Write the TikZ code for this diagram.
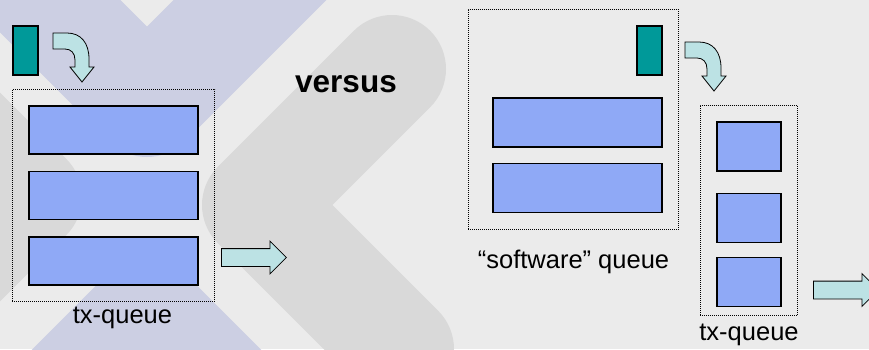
\documentclass[tikz,border=0pt]{standalone}
\usepackage{fontspec}
\setmainfont{Liberation Sans}
\usetikzlibrary{positioning,fit,shapes.arrows}
\definecolor{bgrey}{HTML}{EBEBEB}
\definecolor{chevgrey}{HTML}{D9D9D9}
\definecolor{lavender}{HTML}{CCCFE3}
\definecolor{pktteal}{HTML}{009999}
\definecolor{slotblue}{HTML}{8FA9F6}
\definecolor{flowcyan}{HTML}{BCE2E4}

\begin{document}
\begin{tikzpicture}[x=1pt,y=-1pt,node distance=16pt,
    chev/.style={line width=108pt,line cap=round,line join=round},
    packet/.style={draw,line width=1.5pt,fill=pktteal,minimum width=25pt,minimum height=49pt,inner sep=0pt},
    slot/.style={draw,line width=1.5pt,fill=slotblue,minimum width=169pt,minimum height=48pt,inner sep=0pt},
    smallslot/.style={slot,minimum width=64pt,minimum height=49pt},
    queue/.style={draw,dash pattern=on 1pt off 1pt,line width=0.8pt,inner sep=16pt},
    flowarrow/.style={single arrow,draw,fill=flowcyan,line width=0.8pt,minimum height=65pt,
        single arrow head extend=7.5pt,inner xsep=0pt,inner ysep=8.5pt},
    lbl/.style={font=\fontsize{25.5}{30}\selectfont,inner sep=0pt},
    bendarrow/.pic={\draw[fill=flowcyan,line width=0.8pt] (0,0) -- (14,0)
        .. controls (28,0) and (36,10) .. (36,26) -- (36,34) -- (41,34) -- (29,49)
        -- (17,34) -- (22,34) -- (22,27) .. controls (22,20) and (18,16) .. (12,16)
        -- (0,16) -- cycle;}]
                \useasboundingbox (0,0) rectangle (869,349);
                \begin{scope}
                \clip (0,0) rectangle (869,349);
                \fill[bgrey] (0,0) rectangle (869,349);
                \draw[chev,lavender] (-103,-147) -- (147,103) -- (397,-147);
                \draw[chev,lavender] (-103.5,561.5) -- (146.5,311.5) -- (396.5,561.5);
                \draw[chev,chevgrey] (-222,-53) -- (28,197) -- (-222,447);
                \draw[chev,chevgrey] (392,69) -- (256,205) -- (400,349);
                \end{scope}

                \node[packet] (pkt_1) at (25.5,50.5) {};
                \pic at (53,33) {bendarrow};
                \node[slot] (rq_1) at (113.5,130) {};
                \node[slot] (rq_2) [below=of rq_1] {};
                \node[slot] (rq_3) [below=of rq_2] {};
                \node[queue,fit=(rq_1)(rq_3)] (txq_1) {};
                \node[lbl] (txl_1) [below=5pt of txq_1,xshift=9pt] {tx-queue};
                \node[flowarrow,anchor=tail] (out_1) at (221,257.5) {};

                \node[lbl,font=\fontsize{31.5}{36}\selectfont\bfseries] (vs) at (346,84) {versus};

                \node[packet] (pkt_2) at (649.5,50.5) {};
                \node[slot,minimum height=49pt] (sw_1) at (577.5,122.5) {};
                \node[slot,minimum height=49pt] (sw_2) [below=15pt of sw_1] {};
                \node[queue,fit={(pkt_2)(sw_1)(sw_2)([xshift=-8pt]sw_2.west)}] (swq) {};
                \node[lbl] (swl) [below=20pt of swq] {“software” queue};
                \pic at (685,42) {bendarrow};
                \node[smallslot] (sq_1) at (749,146.5) {};
                \node[smallslot] (sq_2) at (749,218) {};
                \node[smallslot] (sq_3) at (749,282) {};
                \node[queue,fit={(sq_1)([yshift=8pt]sq_3.south)}] (txq_2) {};
                \node[lbl] (txl_2) [below=8pt of txq_2] {tx-queue};
                \node[flowarrow,anchor=tail] (out_2) at (813,290) {};
            \end{tikzpicture}
\end{document}
